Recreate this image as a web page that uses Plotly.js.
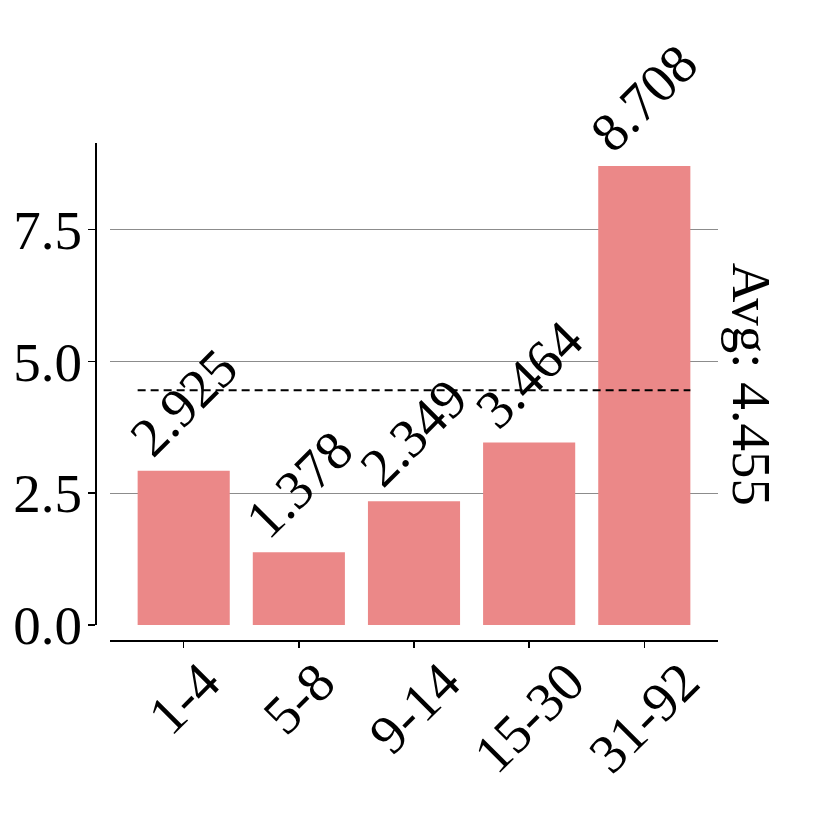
<!DOCTYPE html>
<html>
<head>
<meta charset="utf-8">
<script src="https://cdn.plot.ly/plotly-3.0.1.min.js"></script>
<style>html,body{margin:0;padding:0;background:#fff;}</style>
</head>
<body>
<div id="chart" style="width:830px;height:830px;"></div>
<script>
const categories = ["1-4", "5-8", "9-14", "15-30", "31-92"];
const values = [2.925, 1.378, 2.349, 3.464, 8.708];
const avgValue = 4.455;
const yTickVals = [0, 2.5, 5, 7.5];
const yTickText = ["0.0", "2.5", "5.0", "7.5"];

const FONT = "Liberation Serif";
const FS = 55;
const barColor = "rgb(235,136,136)";

const W = 830, H = 830;
const mL = 95, mR = 112, mT = 143, mB = 190;
const plotW = W - mL - mR, plotH = H - mT - mB;
const offset = 15;

const yMax = Math.max(...values) * 1.05;
const n = categories.length;

const trace = {
  type: "bar",
  x: categories,
  y: values,
  width: 0.8,
  marker: {color: barColor, line: {width: 0}},
  hoverinfo: "none"
};

const annotations = [];
categories.forEach((c, i) => {
  annotations.push({
    x: c, y: values[i], xref: "x", yref: "y",
    text: values[i].toFixed(3), showarrow: false,
    textangle: -45, xanchor: "center", yanchor: "bottom",
    font: {family: FONT, size: FS, color: "#000"}
  });
  annotations.push({
    x: c, y: 0, xref: "x", yref: "paper",
    text: c, showarrow: false,
    textangle: -45, xanchor: "center", yanchor: "top", yshift: -8,
    font: {family: FONT, size: FS, color: "#000"}
  });
});
annotations.push({
  x: 1, y: avgValue, xref: "paper", yref: "y",
  text: "Avg: " + avgValue.toFixed(3), showarrow: false,
  textangle: 90, xanchor: "left", yanchor: "middle", xshift: 1, yshift: 6,
  font: {family: FONT, size: FS, color: "#000"}
});

const layout = {
  width: W, height: H,
  margin: {l: mL, r: mR, t: mT, b: mB, pad: 0},
  paper_bgcolor: "#fff", plot_bgcolor: "#fff",
  showlegend: false,
  font: {family: FONT, size: FS, color: "#000"},
  xaxis: {
    type: "category",
    domain: [offset / plotW, 1],
    anchor: "free", position: 0,
    range: [-0.64, n - 1 + 0.64],
    showline: true, linecolor: "#000", linewidth: 1.5,
    ticks: "outside", ticklen: 6, tickwidth: 1.5, tickcolor: "#000",
    showticklabels: false, showgrid: false, zeroline: false
  },
  yaxis: {
    domain: [offset / plotH, 1],
    anchor: "free", position: 0,
    range: [0, yMax],
    tickmode: "array", tickvals: yTickVals, ticktext: yTickText,
    showline: true, linecolor: "#000", linewidth: 1.5,
    ticks: "outside", ticklen: 7, tickwidth: 1.5, tickcolor: "#000",
    ticklabelstandoff: -5,
    tickfont: {family: FONT, size: FS, color: "#000"},
    showgrid: true, gridcolor: "#8c8c8c", gridwidth: 1.3,
    zeroline: false
  },
  shapes: [{
    type: "line", xref: "x", yref: "y",
    x0: -0.4, x1: n - 1 + 0.4, y0: avgValue, y1: avgValue,
    line: {color: "#000", width: 2, dash: "8px,5px"}
  }],
  annotations: annotations
};

Plotly.newPlot("chart", [trace], layout, {staticPlot: true, displayModeBar: false});
</script>
</body>
</html>
